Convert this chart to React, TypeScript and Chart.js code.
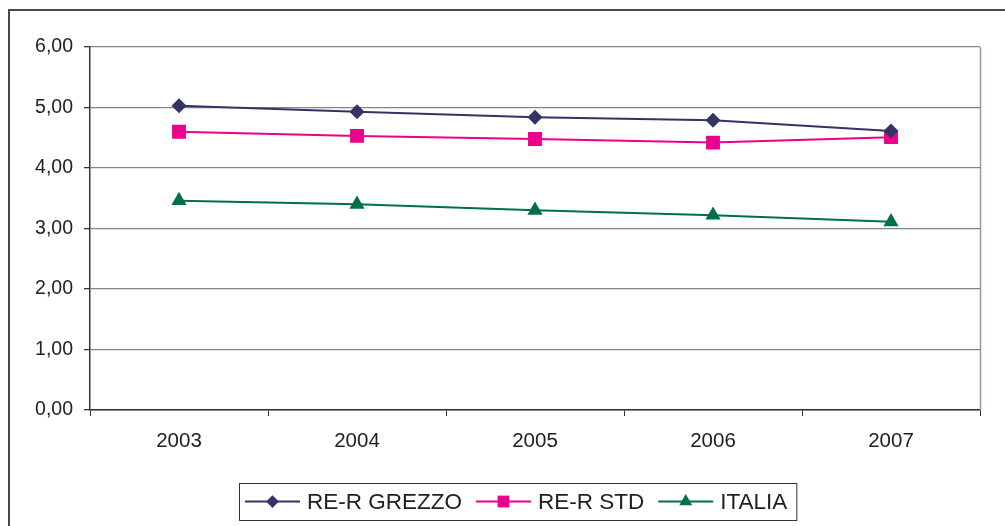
import React, { useEffect, useRef } from 'react';
import { Chart, registerables } from 'chart.js';

Chart.register(...registerables);

const years = ['2003', '2004', '2005', '2006', '2007'];
const grezzo = [5.03, 4.93, 4.84, 4.79, 4.61];
const std = [4.6, 4.53, 4.48, 4.42, 4.51];
const italia = [3.46, 3.4, 3.3, 3.22, 3.11];
const yMin = 0;
const yMax = 6;
const yStep = 1;
const seriesNames = ['RE-R GREZZO', 'RE-R STD', 'ITALIA'];
const seriesColors = ['#333366', '#EC008C', '#00704A'];
const seriesStyles = ['rectRot', 'rect', 'triangle'];
const seriesRadius = [7.5, 9.8, 8.8];

const FONT = '"Liberation Sans", Arial, sans-serif';

function drawMarker(ctx: CanvasRenderingContext2D, style: string, x: number, y: number, r: number, color: string) {
  ctx.save();
  ctx.fillStyle = color;
  ctx.beginPath();
  if (style === 'rectRot') {
    ctx.moveTo(x - r, y);
    ctx.lineTo(x, y - r);
    ctx.lineTo(x + r, y);
    ctx.lineTo(x, y + r);
    ctx.closePath();
  } else if (style === 'rect') {
    const s = Math.SQRT1_2 * r;
    ctx.rect(x - s, y - s, 2 * s, 2 * s);
  } else {
    const a = (2 * Math.PI) / 3;
    ctx.moveTo(x, y - r);
    ctx.lineTo(x + Math.sin(a) * r, y - Math.cos(a) * r);
    ctx.lineTo(x + Math.sin(2 * a) * r, y - Math.cos(2 * a) * r);
    ctx.closePath();
  }
  ctx.fill();
  ctx.restore();
}

const framePlugin = {
  id: 'frameLegend',
  afterDraw(chart: any) {
    const ctx: CanvasRenderingContext2D = chart.ctx;
    const area = chart.chartArea;
    ctx.save();
    // outer frame
    ctx.strokeStyle = '#4a4a4a';
    ctx.lineWidth = 2;
    ctx.beginPath();
    ctx.moveTo(9, 1010);
    ctx.lineTo(9, 10);
    ctx.lineTo(1010, 10);
    ctx.stroke();
    // plot right border
    ctx.strokeStyle = '#9e9898';
    ctx.lineWidth = 1.5;
    ctx.beginPath();
    ctx.moveTo(Math.round(area.right) + 0.5, area.top);
    ctx.lineTo(Math.round(area.right) + 0.5, area.bottom);
    ctx.stroke();

    // legend
    ctx.font = `22.5px ${FONT}`;
    ctx.textBaseline = 'middle';
    ctx.textAlign = 'left';
    const boxLeft = 239;
    const boxTop = 483;
    const boxH = 37;
    const cy = boxTop + boxH / 2;
    let x = boxLeft + 6;
    const lineLen = 55;
    chart.data.datasets.forEach((ds: any, i: number) => {
      ctx.strokeStyle = ds.borderColor;
      ctx.lineWidth = 2;
      ctx.beginPath();
      ctx.moveTo(x, cy);
      ctx.lineTo(x + lineLen, cy);
      ctx.stroke();
      drawMarker(ctx, seriesStyles[i], x + lineLen / 2, cy, seriesRadius[i] * 0.85, ds.borderColor);
      const tx = x + lineLen + 7;
      ctx.fillStyle = '#222';
      ctx.fillText(ds.label, tx, cy + 1);
      x = tx + ctx.measureText(ds.label).width + (i < 2 ? 14 : 9);
    });
    ctx.strokeStyle = '#333';
    ctx.lineWidth = 1;
    ctx.strokeRect(boxLeft + 0.5, boxTop + 0.5, x - boxLeft, boxH);
    ctx.restore();
  },
};

export default function App() {
  const ref = useRef<HTMLCanvasElement | null>(null);
  useEffect(() => {
    if (!ref.current) return;
    const seriesData = [grezzo, std, italia];
    const chart = new Chart(ref.current, {
      type: 'line',
      data: {
        labels: years,
        datasets: seriesNames.map((name, i) => ({
          label: name,
          data: seriesData[i],
          borderColor: seriesColors[i],
          backgroundColor: seriesColors[i],
          borderWidth: 2,
          pointStyle: seriesStyles[i] as any,
          pointRadius: seriesRadius[i],
          pointBorderWidth: 0,
          pointBackgroundColor: seriesColors[i],
          tension: 0,
        })),
      },
      options: {
        animation: false,
        responsive: false,
        maintainAspectRatio: false,
        layout: { padding: { left: 0, top: 47, right: 25, bottom: 0 } },
        plugins: {
          legend: { display: false },
          tooltip: { enabled: false },
        },
        scales: {
          x: {
            offset: true,
            grid: {
              offset: true,
              drawOnChartArea: false,
              drawTicks: true,
              tickLength: 6,
              tickColor: '#333',
            },
            border: { display: true, color: '#333', width: 1.5 },
            ticks: {
              color: '#222',
              padding: 13,
              maxRotation: 0,
              font: { family: FONT, size: 20.5 },
            },
            afterFit: (scale: any) => {
              scale.height = 116;
            },
          },
          y: {
            min: yMin,
            max: yMax,
            grid: {
              color: '#858585',
              lineWidth: 1.3,
              drawTicks: true,
              tickLength: 6,
              tickColor: '#333',
            },
            border: { display: true, color: '#333', width: 1.5 },
            ticks: {
              stepSize: yStep,
              color: '#222',
              padding: 11,
              font: { family: FONT, size: 19.5 },
              callback: (v: any) => Number(v).toFixed(2).replace('.', ','),
            },
            afterFit: (scale: any) => {
              scale.width = 90;
            },
          },
        },
      },
      plugins: [framePlugin],
    });
    return () => chart.destroy();
  }, []);
  return (
    <div style={{ position: 'fixed', left: 0, top: 0, width: 1005, height: 526, background: '#fff' }}>
      <canvas ref={ref} width={1005} height={526} style={{ display: 'block' }} />
    </div>
  );
}
